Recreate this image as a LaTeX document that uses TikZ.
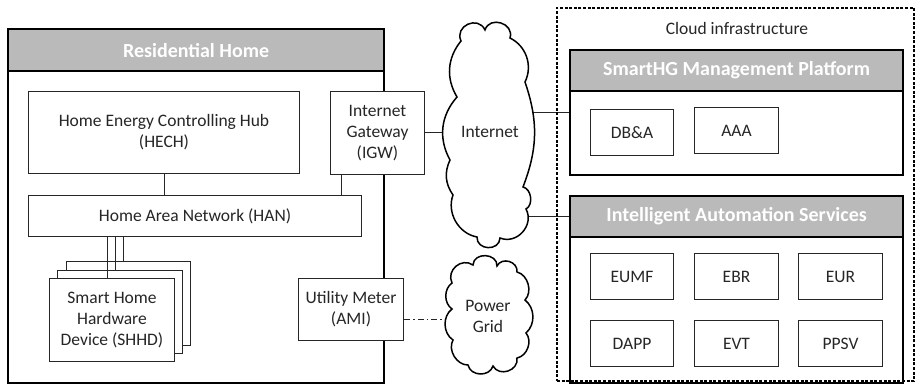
\documentclass[tikz,border=0pt]{standalone}
\usepackage{fontspec}
\setmainfont{Carlito}
\usetikzlibrary{backgrounds}
\begin{document}
\begin{tikzpicture}[x=1pt,y=-1pt,
  txt/.style={font=\fontsize{17.5}{21}\selectfont, text=black!85},
  box/.style={txt, draw=black!85, line width=1pt, fill=white, inner sep=0pt, anchor=north west, align=center},
  container/.style={draw=black, line width=2.2pt, inner sep=0pt, anchor=north west},
  header/.style={draw=black, line width=2.2pt, fill=black!27, inner sep=0pt, anchor=north west, text=white, font=\bfseries\fontsize{20}{24}\selectfont},
  cloudline/.style={draw=black, line width=1.5pt, fill=white, line join=miter},
  conn/.style={draw=black!85, line width=1pt}
]
\useasboundingbox (0,0) rectangle (916,390);

% Residential Home
\node[container, minimum width=376pt, minimum height=354pt] (rh) at (7,28) {};
\node[header, minimum width=376pt, minimum height=42pt] (rhh) at (7,28) {Residential Home};
\node[box, minimum width=271pt, minimum height=82pt] (hech) at (28,91) {Home Energy Controlling Hub\\(HECH)};
\node[box, minimum width=94pt, minimum height=83pt] (igw) at (330,91) {Internet\\Gateway\\(IGW)};
\node[box, minimum width=333pt, minimum height=41pt] (han) at (28,195) {Home Area Network (HAN)};
\node[box, minimum width=124pt, minimum height=84pt] (shhd3) at (66,261) {};
\node[box, minimum width=125pt, minimum height=83pt] (shhd2) at (57,270) {};
\node[box, minimum width=125pt, minimum height=83pt] (shhd1) at (49,278) {Smart Home\\Hardware\\Device (SHHD)};
\node[box, minimum width=105pt, minimum height=62pt] (um) at (298,278) {Utility Meter\\(AMI)};
\coordinate (umout) at ([yshift=-10pt]um.east);

\draw[conn] (hech.south) -- (hech.south |- han.north);
\draw[conn] ([xshift=11pt]igw.south west) -- ([xshift=11pt]igw.south west |- han.north);
\draw[conn] ([xshift=-4.5pt]shhd1.north) -- ([xshift=-4.5pt]shhd1.north |- han.south);
\draw[conn] ([xshift=-4.5pt]shhd2.north) -- ([xshift=-4.5pt]shhd2.north |- han.south);
\draw[conn] ([xshift=-5pt]shhd3.north) -- ([xshift=-5pt]shhd3.north |- han.south);

% Internet cloud
\path[cloudline] (461,41)
  to[bend left=90, looseness=1.6] (485,30)
  to[bend left=90, looseness=1.5] (510,38)
  to[bend left=45] (525,82)
  to[bend left=20] (523,187)
  to[bend left=70] (526,209)
  to[bend left=70, looseness=1.2] (500,238)
  to[bend left=90, looseness=1.5] (477,237)
  to[bend left=50] (453,195)
  to[bend left=30] (450,160)
  to[bend left=35] (457,97)
  to[bend left=35] (461,41) -- cycle;
\node[txt] (inet) at (490,132) {Internet};

% Power Grid cloud
\path[cloudline] (452,283)
  to[bend left=75, looseness=1.3] (473,265)
  to[bend left=90, looseness=1.4] (497,266)
  to[bend left=80, looseness=1.3] (517,272)
  to[bend left=60] (525,300)
  to[bend left=50] (526,333)
  to[bend left=60] (517,358)
  to[bend left=80, looseness=1.3] (493,366)
  to[bend left=75, looseness=1.2] (468,365)
  to[bend left=60] (453,340)
  to[bend left=55] (452,309)
  to[bend left=55] (452,283) -- cycle;
\node[txt, align=center] (pg) at (488,316) {Power\\Grid};

% Cloud infrastructure
\node[draw=black, dash pattern=on 3pt off 1.6pt, line width=1.8pt, anchor=north west, minimum width=357pt, minimum height=373pt, inner sep=0pt] (ci) at (556,7) {};
\node[txt] (cil) at (737,28) {Cloud infrastructure};

\node[container, minimum width=333pt, minimum height=125pt] (sm) at (569,49) {};
\node[header, minimum width=333pt, minimum height=41pt] (smh) at (569,49) {SmartHG Management Platform};
\node[box, minimum width=83pt, minimum height=46pt] (dba) at (590,109) {DB\&A};
\node[box, minimum width=84pt, minimum height=46pt] (aaa) at (694,107) {AAA};

\node[container, minimum width=333pt, minimum height=187pt] (ias) at (569,195) {};
\node[header, minimum width=333pt, minimum height=41pt] (iash) at (569,195) {Intelligent Automation Services};
\node[box, minimum width=83pt, minimum height=46pt] (eumf) at (590,253) {EUMF};
\node[box, minimum width=84pt, minimum height=46pt] (ebr) at (694,253) {EBR};
\node[box, minimum width=84pt, minimum height=46pt] (eur) at (798,253) {EUR};
\node[box, minimum width=83pt, minimum height=46pt] (dapp) at (590,320) {DAPP};
\node[box, minimum width=84pt, minimum height=46pt] (evt) at (694,320) {EVT};
\node[box, minimum width=84pt, minimum height=46pt] (ppsv) at (798,320) {PPSV};

\begin{scope}[on background layer]
\draw[conn] (igw.east) -- (igw.east -| inet.center);
\draw[conn] (sm.west) -- (inet.center |- sm.west);
\draw[conn] (iash.west) -- (inet.center |- iash.west);
\draw[conn, dash pattern=on 6pt off 3pt on 1.5pt off 3pt] (umout) -- (pg.center |- umout);
\end{scope}
\end{tikzpicture}
\end{document}
